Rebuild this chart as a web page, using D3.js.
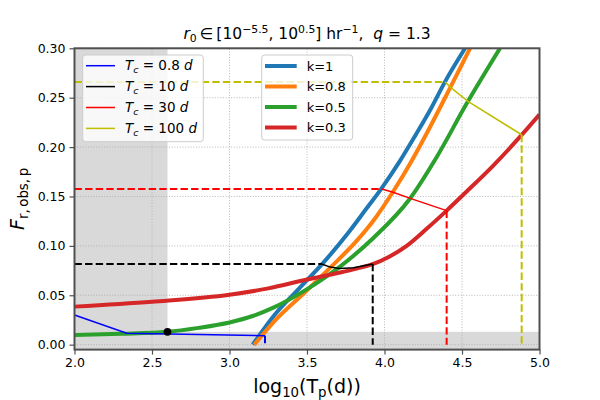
<!DOCTYPE html>
<html>
<head>
<meta charset="utf-8">
<script src="https://cdn.jsdelivr.net/npm/d3@7"></script>
<style>
  body { margin: 0; background: #fff; }
  svg { font-family: "DejaVu Sans", sans-serif; }
</style>
</head>
<body>
<div id="chart"></div>
<script>
// ---- data ----
const xTicks = [2.0, 2.5, 3.0, 3.5, 4.0, 4.5, 5.0];
const yTicks = [0.00, 0.05, 0.10, 0.15, 0.20, 0.25, 0.30];

const kLabels = ["k=1", "k=0.8", "k=0.5", "k=0.3"];
const kColors = ["#1f77b4", "#ff7f0e", "#2ca02c", "#d62728"];

const k1X = [3.15, 3.28, 3.45, 3.6, 3.76, 3.88, 3.98, 4.1, 4.2, 4.3, 4.39, 4.52];
const k1Y = [0.0, 0.028, 0.057, 0.082, 0.112, 0.137, 0.158, 0.186, 0.212, 0.239, 0.266, 0.30];
const k08X = [3.16, 3.31, 3.48, 3.65, 3.82, 3.94, 4.06, 4.175, 4.276, 4.42, 4.552];
const k08Y = [0.0, 0.027, 0.052, 0.078, 0.105, 0.128, 0.156, 0.186, 0.215, 0.259, 0.30];
const k05X = [2.0, 2.3, 2.6, 2.8, 3.0, 3.15, 3.283, 3.498, 3.713, 3.928, 4.165, 4.337, 4.53, 4.745];
const k05Y = [0.0098, 0.011, 0.013, 0.017, 0.0225, 0.029, 0.0375, 0.056, 0.079, 0.108, 0.148, 0.19, 0.244, 0.30];
const k03X = [2.0, 2.5, 3.0, 3.25, 3.5, 3.713, 3.82, 3.928, 4.03, 4.143, 4.27, 4.401, 4.53, 4.7, 4.885, 5.0];
const k03Y = [0.0385, 0.0435, 0.0505, 0.057, 0.066, 0.073, 0.077, 0.0817, 0.089, 0.100, 0.117, 0.1357, 0.155, 0.181, 0.2123, 0.233];

const tcLabels = ["0.8", "10", "30", "100"];
const tcColors = ["#0000ff", "#000000", "#ff0000", "#bfbf00"];
// thin connecting lines (one per T_c)
const tc08X = [2.0, 2.337, 3.229];
const tc08Y = [0.030, 0.0115, 0.009];
const tc10X = [3.595, 3.65, 3.71, 3.80, 3.924];
const tc10Y = [0.0817, 0.0785, 0.0772, 0.0778, 0.0817];
const tc30X = [3.982, 4.05, 4.19, 4.401];
const tc30Y = [0.1576, 0.1545, 0.1468, 0.1357];
const tc100X = [4.39, 4.434, 4.541, 4.885];
const tc100Y = [0.266, 0.2595, 0.246, 0.2125];

// shaded regions and marked point
const shadeX = [2.0, 2.6];
const shadeY = [-0.005, 0.013];
const dotX = 2.6, dotY = 0.013;

// ---- layout ----
const W = 600, H = 400;
const margin = { top: 48.3, right: 60.5, bottom: 50.4, left: 74.5 };

const svg = d3.select("#chart").append("svg")
    .attr("width", W).attr("height", H);

const x = d3.scaleLinear().domain([2, 5]).range([margin.left, W - margin.right]);
const y = d3.scaleLinear().domain([-0.005, 0.3]).range([H - margin.bottom, margin.top]);

const plot = svg.append("g");
svg.append("clipPath").attr("id", "clip").append("rect")
    .attr("x", x(2)).attr("y", y(0.3))
    .attr("width", x(5) - x(2)).attr("height", y(-0.005) - y(0.3));

// shading
plot.append("rect")
    .attr("x", x(shadeX[0])).attr("y", y(0.3))
    .attr("width", x(shadeX[1]) - x(shadeX[0])).attr("height", y(-0.005) - y(0.3))
    .attr("fill", "#d9d9d9");
plot.append("rect")
    .attr("x", x(2)).attr("y", y(shadeY[1]))
    .attr("width", x(5) - x(2)).attr("height", y(shadeY[0]) - y(shadeY[1]))
    .attr("fill", "#d9d9d9");

// grid
plot.selectAll(".gx").data(xTicks).enter().append("line")
    .attr("x1", d => x(d)).attr("x2", d => x(d))
    .attr("y1", y(-0.005)).attr("y2", y(0.3))
    .attr("stroke", "#b0b0b0").attr("stroke-width", 0.9).attr("stroke-dasharray", "1,1.7");
plot.selectAll(".gy").data(yTicks).enter().append("line")
    .attr("x1", x(2)).attr("x2", x(5))
    .attr("y1", d => y(d)).attr("y2", d => y(d))
    .attr("stroke", "#b0b0b0").attr("stroke-width", 0.9).attr("stroke-dasharray", "1,1.7");

const zip = (xs, ys) => xs.map((v, i) => [v, ys[i]]);
const line = d3.line().x(d => x(d[0])).y(d => y(d[1]));
const smooth = d3.line().x(d => x(d[0])).y(d => y(d[1])).curve(d3.curveMonotoneX);

const marks = plot.append("g").attr("clip-path", "url(#clip)");

// thick k curves
const kSeries = [zip(k1X, k1Y), zip(k08X, k08Y), zip(k05X, k05Y), zip(k03X, k03Y)];
kSeries.forEach((s, i) => {
  marks.append("path").attr("d", smooth(s))
      .attr("fill", "none").attr("stroke", kColors[i]).attr("stroke-width", 4);
});

// T_c guides: dashed horizontal to the left, thin connector, dashed vertical down
const tcSeries = [zip(tc08X, tc08Y), zip(tc10X, tc10Y), zip(tc30X, tc30Y), zip(tc100X, tc100Y)];
tcSeries.forEach((s, i) => {
  const first = s[0], last = s[s.length - 1];
  if (i > 0) {
    marks.append("path").attr("d", line([[2, first[1]], first]))
        .attr("fill", "none").attr("stroke", tcColors[i]).attr("stroke-width", 2)
        .attr("stroke-dasharray", "7.4,3.2");
  }
  marks.append("path").attr("d", line(s))
      .attr("fill", "none").attr("stroke", tcColors[i]).attr("stroke-width", 1.5);
  marks.append("path").attr("d", line([last, [last[0], 0]]))
      .attr("fill", "none").attr("stroke", tcColors[i]).attr("stroke-width", 2)
      .attr("stroke-dasharray", "7.4,3.2");
});

marks.append("circle").attr("cx", x(dotX)).attr("cy", y(dotY)).attr("r", 3.9).attr("fill", "#000");

// spines
svg.append("rect")
    .attr("x", x(2)).attr("y", y(0.3))
    .attr("width", x(5) - x(2)).attr("height", y(-0.005) - y(0.3))
    .attr("fill", "none").attr("stroke", "#505050").attr("stroke-width", 2);

// axes
const xAxis = svg.append("g")
    .attr("transform", `translate(0,${y(-0.005)})`)
    .call(d3.axisBottom(x).tickValues(xTicks).tickFormat(d3.format(".1f")).tickSize(5).tickPadding(4));
const yAxis = svg.append("g")
    .attr("transform", `translate(${x(2)},0)`)
    .call(d3.axisLeft(y).tickValues(yTicks).tickFormat(d3.format(".2f")).tickSize(5).tickPadding(4));
[xAxis, yAxis].forEach(a => {
  a.select(".domain").remove();
  a.selectAll("line").attr("stroke", "#505050").attr("stroke-width", 1.2);
  a.selectAll("text").attr("fill", "#000").style("font-size", "12.5px")
      .style("font-family", "DejaVu Sans, sans-serif");
});

// rich text helper: parts with italic / sub / sup
function rich(t, parts, size) {
  let cur = 0;
  parts.forEach(p => {
    const want = p.sub ? size * 0.22 : p.sup ? -size * 0.38 : 0;
    t.append("tspan")
        .attr("dy", want - cur)
        .style("font-size", (p.sub || p.sup ? size * 0.7 : size) + "px")
        .style("font-style", p.i ? "italic" : "normal")
        .text(p.t);
    cur = want;
  });
}

// title
const title = svg.append("text")
    .attr("x", (x(2) + x(5)) / 2).attr("y", 38.5)
    .attr("text-anchor", "middle").style("font-size", "15.5px");
rich(title, [
  { t: "r", i: true }, { t: "0", sub: true }, { t: "\u2009\u2208\u2009[10" }, { t: "\u22125.5", sup: true },
  { t: ", 10" }, { t: "0.5", sup: true }, { t: "] hr" }, { t: "\u22121", sup: true },
  { t: ",\u00a0\u00a0" }, { t: "q", i: true }, { t: " = 1.3" }
], 15.5);

// axis labels
const xl = svg.append("text")
    .attr("x", (x(2) + x(5)) / 2).attr("y", 393)
    .attr("text-anchor", "middle").style("font-size", "19px");
rich(xl, [{ t: "log" }, { t: "10", sub: true }, { t: "(T" }, { t: "p", sub: true }, { t: "(d))" }], 19);

const yl = svg.append("text")
    .attr("transform", `translate(24,${(y(0.3) + y(-0.005)) / 2}) rotate(-90)`)
    .attr("text-anchor", "middle").style("font-size", "19px");
rich(yl, [{ t: "F", i: true }, { t: "r,\u2009obs,\u2009p", sub: true }], 19);

// legends
function legendBox(x0, y0, w, h) {
  svg.append("rect").attr("x", x0).attr("y", y0).attr("width", w).attr("height", h)
      .attr("rx", 3).attr("fill", "#fff").attr("fill-opacity", 0.8)
      .attr("stroke", "#cccccc").attr("stroke-width", 1);
}

legendBox(82.7, 55, 120.6, 86.7);
tcLabels.forEach((lab, i) => {
  const cy = 65.7 + i * 20.9;
  svg.append("line").attr("x1", 86).attr("x2", 115).attr("y1", cy).attr("y2", cy)
      .attr("stroke", tcColors[i]).attr("stroke-width", 1.5);
  const t = svg.append("text").attr("x", 125).attr("y", cy + 4.5).style("font-size", "13.5px");
  rich(t, [{ t: "T", i: true }, { t: "c", i: true, sub: true }, { t: " = " + lab + " " }, { t: "d", i: true }], 13.5);
});

legendBox(261.7, 55, 91, 85);
kLabels.forEach((lab, i) => {
  const cy = 66 + i * 20.5;
  svg.append("line").attr("x1", 265).attr("x2", 296.7).attr("y1", cy).attr("y2", cy)
      .attr("stroke", kColors[i]).attr("stroke-width", 4);
  svg.append("text").attr("x", 306.7).attr("y", cy + 4.7).style("font-size", "13px").text(lab);
});
</script>
</body>
</html>
